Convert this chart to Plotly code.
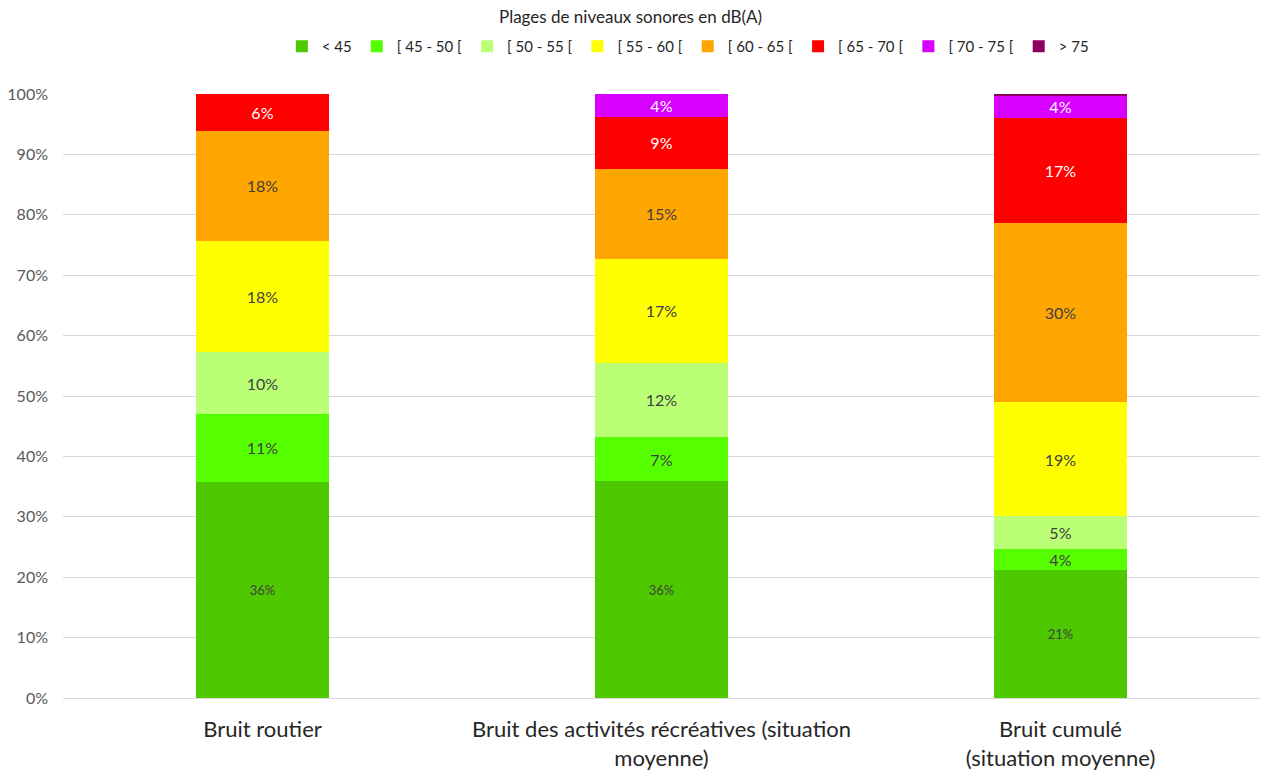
import plotly.graph_objects as go

# Noise-level ranges (dB(A)) and their share of each exposure scenario
categories = ["Bruit routier",
              "Bruit des activités récréatives (situation<br>moyenne)",
              "Bruit cumulé<br>(situation moyenne)"]

ranges = ["< 45", "[ 45 - 50 [", "[ 50 - 55 [", "[ 55 - 60 [",
          "[ 60 - 65 [", "[ 65 - 70 [", "[ 70 - 75 [", "> 75"]

lt45 = [35.8, 35.9, 21.2]
r45_50 = [11.2, 7.3, 3.5]
r50_55 = [10.3, 12.3, 5.4]
r55_60 = [18.4, 17.2, 18.9]
r60_65 = [18.2, 14.9, 29.6]
r65_70 = [6.1, 8.6, 17.4]
r70_75 = [0.0, 3.8, 3.8]
gt75 = [0.0, 0.2, 0.2]

series = [lt45, r45_50, r50_55, r55_60, r60_65, r65_70, r70_75, gt75]
colors = ["#4EC900", "#55FF00", "#BBFF77", "#FFFF00",
          "#FFA600", "#FF0000", "#D800FF", "#8E0060"]
text_colors = ["#404040", "#404040", "#404040", "#404040",
               "#404040", "#FFFFFF", "#FFFFFF", "#FFFFFF"]
text_sizes = [13, 16, 16, 16, 16, 16, 16, 16]

FONT = "Lato, 'Open Sans', sans-serif"

fig = go.Figure()
for name, vals, col, tcol, tsz in zip(ranges, series, colors, text_colors, text_sizes):
    labels = [f"{round(v):.0f}%" if v >= 1 else "" for v in vals]
    fig.add_trace(go.Bar(
        name=name, x=categories, y=vals,
        marker=dict(color=col, line=dict(width=0)),
        text=labels, textposition="inside", insidetextanchor="middle",
        textangle=0, constraintext="none",
        textfont=dict(color=tcol, size=tsz, family=FONT),
        hovertemplate="%{x}<br>" + name + " : %{y:.1f}%<extra></extra>",
    ))

fig.add_annotation(
    text="Plages de niveaux sonores en dB(A)",
    xref="paper", yref="paper", x=0.474, y=1.1275,
    xanchor="center", yanchor="middle", showarrow=False,
    font=dict(size=17, color="#262626", family=FONT),
)

fig.update_layout(
    barmode="stack",
    bargap=0.667,
    width=1261, height=775,
    margin=dict(l=63, r=1, t=94, b=77, autoexpand=False),
    paper_bgcolor="white", plot_bgcolor="white",
    font=dict(family=FONT, color="#595959", size=16),
    legend=dict(
        orientation="h", x=0.522, xanchor="center", y=1.106, yanchor="top",
        traceorder="normal",
        font=dict(size=15, color="#262626", family=FONT),
        itemwidth=30, itemsizing="constant", tracegroupgap=0,
    ),
    xaxis=dict(
        showline=True, linecolor="#D9D9D9", linewidth=1,
        tickfont=dict(size=22, color="#262626", family=FONT),
        ticks="", showgrid=False, ticklabelstandoff=12,
    ),
    yaxis=dict(
        range=[0, 100], dtick=10, ticksuffix="%",
        showgrid=True, gridcolor="#D9D9D9", gridwidth=1,
        zeroline=False, ticks="", ticklabelstandoff=14,
        tickfont=dict(size=16, color="#595959", family=FONT),
    ),
)

fig.write_html("out.html")
